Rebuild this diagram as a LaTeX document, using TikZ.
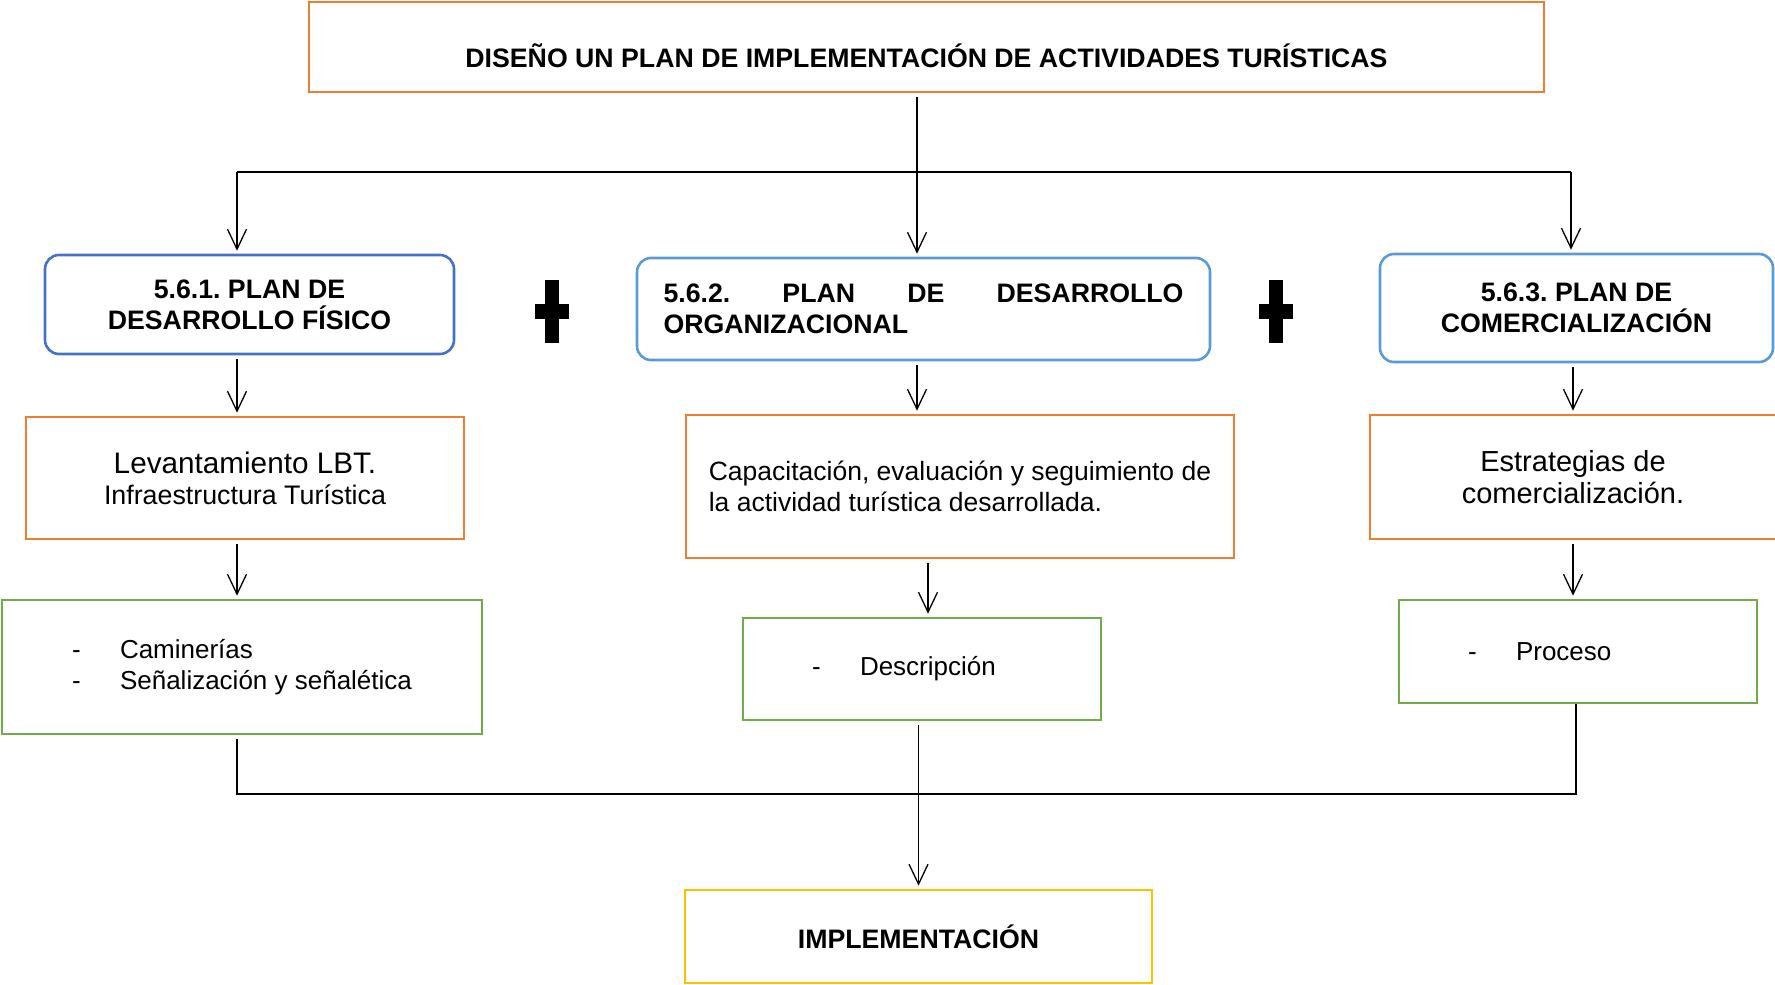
\documentclass[tikz,border=0pt]{standalone}
\usepackage{fontspec}
\setmainfont{Liberation Sans}
\usetikzlibrary{arrows.meta}
\definecolor{borange}{HTML}{ED7D31}
\definecolor{bblue}{HTML}{4472C4}
\definecolor{lblue}{HTML}{5B9BD5}
\definecolor{bgreen}{HTML}{70AD47}
\definecolor{byellow}{HTML}{FFC000}
\newcommand{\itemdash}{\makebox[48pt][l]{-}}
\frenchspacing

\begin{document}
\begin{tikzpicture}[x=1pt,y=-1pt,
  box/.style={draw,line width=2.6pt,inner sep=0pt,font=\fontsize{26}{31}\selectfont},
  plan/.style={box,rounded corners=14pt,font=\bfseries\fontsize{26.7}{31}\selectfont},
  list/.style={box,draw=bgreen,align=left},
  line/.style={line width=1.3pt},
  from/.style={shorten <=4pt},
  arr/.style={line,shorten >=3pt,-{Straight Barb[length=20pt,width=19pt]}}]
  \useasboundingbox (0,0) rectangle (1775,985);
  % title
  \node[box,draw=borange,minimum width=1235pt,minimum height=90pt] (title) at (926.5,47) {};
  \node[font=\bfseries\fontsize{26.7}{31}\selectfont] (titletext) at (926.5,56) {DISEÑO UN PLAN DE IMPLEMENTACIÓN DE ACTIVIDADES TURÍSTICAS};
  % the three plans
  \node[plan,draw=bblue,minimum width=409pt,minimum height=99pt,align=center] (p1) at (249.5,304.5) {5.6.1. PLAN DE\\DESARROLLO FÍSICO};
  \node[plan,draw=lblue,minimum width=573pt,minimum height=102pt,text width=520pt,align=left] (p2) at (923.5,309) {5.6.2.\hfill PLAN\hfill DE\hfill DESARROLLO\\ORGANIZACIONAL};
  \node[plan,draw=lblue,minimum width=393pt,minimum height=108pt,align=center] (p3) at (1576.5,308) {5.6.3. PLAN DE\\COMERCIALIZACIÓN};
  \foreach \px in {552,1276} {
    \fill (\px-7,280) rectangle (\px+7,343);
    \fill (\px-17,304) rectangle (\px+17,319);
  }
  % actions
  \node[box,draw=borange,minimum width=438pt,minimum height=122pt,align=center] (a1) at (245,478) {{\fontsize{29.7}{31}\selectfont Levantamiento LBT.}\\{\fontsize{26.8}{31}\selectfont Infraestructura Turística}};
  \node[box,draw=borange,minimum width=548pt,minimum height=143pt,align=left,font=\fontsize{26.5}{31}\selectfont] (a2) at (960,486.5) {Capacitación, evaluación y seguimiento de\\la actividad turística desarrollada.};
  \node[box,draw=borange,minimum width=406pt,minimum height=124pt,align=center,font=\fontsize{29}{32}\selectfont] (a3) at (1573,477) {Estrategias de\\comercialización.};
  % lists
  \node[list,minimum width=480pt,minimum height=134pt] (g1) at (242,667) {\itemdash Caminerías\\\itemdash Señalización y señalética};
  \node[list,minimum width=358pt,minimum height=102pt,text width=220pt] (g2) at (922,669) {\itemdash Descripción};
  \node[list,minimum width=358pt,minimum height=103pt,text width=220pt] (g3) at (1578,651.5) {\itemdash Proceso};
  \node[box,draw=byellow,minimum width=467pt,minimum height=93pt,font=\bfseries\fontsize{26.7}{31}\selectfont] (impl) at (918.5,936.5) {IMPLEMENTACIÓN};
  % connectors
  \coordinate (bus) at (917,172);
  \coordinate (busL) at (237,172);
  \coordinate (busR) at (1571,172);
  \coordinate (lowL) at (237,794);
  \coordinate (lowR) at (1576,794);
  \draw[line,from] (title.south -| bus) -- (bus);
  \draw[line] (busL) -- (busR);
  \draw[arr] (busL) -- (busL |- p1.north);
  \draw[arr] (bus) -- (bus |- p2.north);
  \draw[arr] (busR) -- (busR |- p3.north);
  \draw[arr,from] (busL |- p1.south) -- (busL |- a1.north);
  \draw[arr,from] (busL |- a1.south) -- (busL |- g1.north);
  \draw[arr,from] (bus |- p2.south) -- (bus |- a2.north);
  \draw[arr,from] ([xshift=6pt]g2.north |- a2.south) -- ([xshift=6pt]g2.north);
  \draw[arr,from] (a3.north |- p3.south) -- (a3.north);
  \draw[arr,from] (a3.south) -- (a3.south |- g3.north);
  \draw[line,from] (lowL |- g1.south) -- (lowL) -- (lowR) -- (lowR |- g3.south);
  \draw[arr,from] (impl.north |- g2.south) -- (impl.north);
\end{tikzpicture}
\end{document}
